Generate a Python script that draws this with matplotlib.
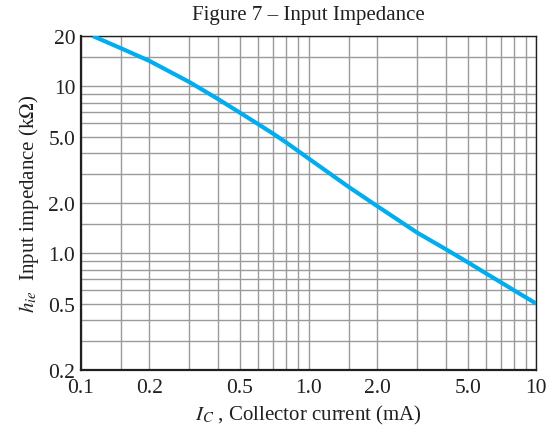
import matplotlib
matplotlib.use("Agg")
import matplotlib.pyplot as plt
from matplotlib.ticker import FixedLocator, NullFormatter

plt.rcParams['font.family'] = ['Liberation Serif', 'DejaVu Serif']
plt.rcParams['mathtext.fontset'] = 'stix'

# Data
collector_current_mA = [0.113, 0.15, 0.2, 0.3, 0.4, 0.5, 0.6, 0.7, 0.8, 0.9, 1.0,
                        1.5, 2.0, 3.0, 4.0, 5.0, 6.0, 7.0, 8.0, 9.0, 10.0]
input_impedance_kohm = [20.0, 16.9, 14.2, 10.6, 8.4, 6.95, 5.95, 5.2, 4.6, 4.1, 3.7,
                        2.5, 1.92, 1.33, 1.06, 0.885, 0.76, 0.67, 0.6, 0.545, 0.5]

x_tick_values = [0.1, 0.2, 0.5, 1.0, 2.0, 5.0, 10]
x_tick_labels = ["0.1", "0.2", "0.5", "1.0", "2.0", "5.0", "10"]
y_tick_values = [0.2, 0.5, 1.0, 2.0, 5.0, 10, 20]
y_tick_labels = ["0.2", "0.5", "1.0", "2.0", "5.0", "10", "20"]
grid_mults = [1, 1.5, 2, 3, 4, 5, 6, 7, 8, 9]

fig = plt.figure(figsize=(5.5, 4.31), dpi=100)
ax = fig.add_axes([0.147, 0.139, 0.828, 0.775])

ax.set_xscale('log')
ax.set_yscale('log')
ax.set_xlim(0.1, 10)
ax.set_ylim(0.2, 20)

xgrid = [m * d for d in (0.1, 1.0) for m in grid_mults] + [10]
ygrid = [m * d for d in (0.1, 1.0, 10.0) for m in grid_mults]
ygrid = [v for v in ygrid if 0.2 <= v <= 20]

ax.xaxis.set_major_locator(FixedLocator(x_tick_values))
ax.yaxis.set_major_locator(FixedLocator(y_tick_values))
ax.set_xticklabels(x_tick_labels)
ax.set_yticklabels(y_tick_labels)
ax.xaxis.set_minor_locator(FixedLocator(xgrid))
ax.yaxis.set_minor_locator(FixedLocator(ygrid))
ax.xaxis.set_minor_formatter(NullFormatter())
ax.yaxis.set_minor_formatter(NullFormatter())

ax.tick_params(which='both', length=0, labelsize=15.5, colors='#231f20')
ax.tick_params(axis='x', pad=6)
ax.tick_params(axis='y', pad=4)
ax.grid(True, which='both', color='#9a9a9a', linewidth=1.0)
ax.set_axisbelow(True)

for s in ax.spines.values():
    s.set_color('#231f20')
    s.set_linewidth(1.0)
ax.spines['left'].set_linewidth(1.6)
ax.spines['bottom'].set_linewidth(1.6)

ax.plot(collector_current_mA, input_impedance_kohm, color='#00aeef', linewidth=3.0,
        solid_capstyle='butt', zorder=3, clip_on=True)

ax.set_title("Figure 7 – Input Impedance", fontsize=15, color='#231f20', pad=12)
ax.set_xlabel(r"$I_C$ , Collector current (mA)", fontsize=15, color='#231f20', labelpad=4)
ax.set_ylabel(r"$h_{ie}$  Input impedance (k$\Omega$)", fontsize=15, color='#231f20', labelpad=5)

fig.savefig("out.png", dpi=100)
